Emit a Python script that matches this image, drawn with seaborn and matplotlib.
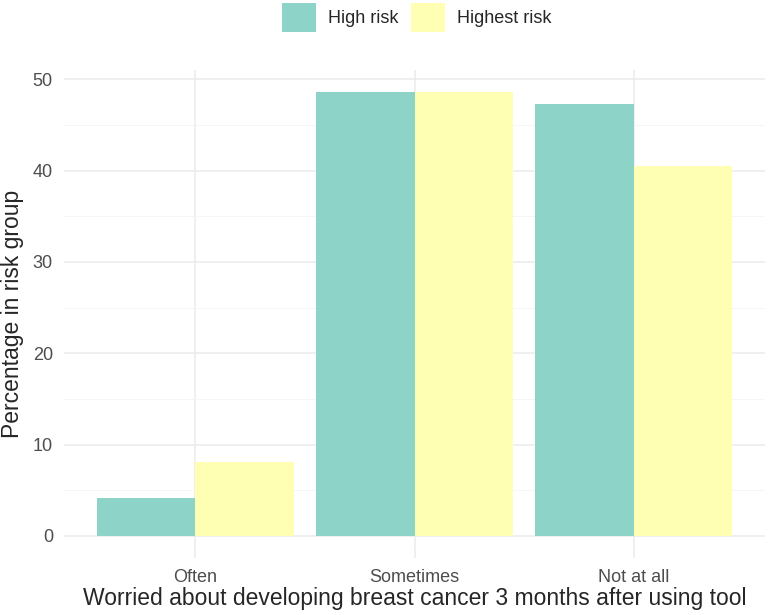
import pandas as pd
import matplotlib
matplotlib.use("Agg")
from matplotlib import pyplot as plt
from matplotlib.patches import Patch
from matplotlib.ticker import MultipleLocator
import seaborn as sns

# values (percent in each risk group)
categories = ["Often", "Sometimes", "Not at all"]
groups = ["High risk", "Highest risk"]
high_risk = [4.1, 48.6, 47.3]
highest_risk = [8.1, 48.6, 40.5]
colors = ["#8DD3C7", "#FFFFB3"]

data = pd.DataFrame({
    "worry": categories * 2,
    "group": [groups[0]] * 3 + [groups[1]] * 3,
    "pct": high_risk + highest_risk,
})

sns.set_style("white")
plt.rcParams["font.family"] = ["Liberation Sans", "DejaVu Sans"]

fig = plt.figure(figsize=(7.68, 6.15), dpi=100)
ax = fig.add_axes([64 / 768, 57 / 615, 701 / 768, 488 / 615])

sns.barplot(data=data, x="worry", y="pct", hue="group",
            order=categories, hue_order=groups,
            palette=colors, width=0.9, gap=0,
            saturation=1, linewidth=0, ax=ax, zorder=3)

ymax = max(high_risk + highest_risk)
ax.set_ylim(-0.05 * ymax, ymax * 1.05)
ax.set_xlim(-0.6, 2.6)
ax.yaxis.set_major_locator(MultipleLocator(10))
ax.yaxis.set_minor_locator(MultipleLocator(5))
ax.grid(which="major", color="#EBEBEB", linewidth=1.1, zorder=0)
ax.grid(which="minor", axis="y", color="#F4F4F4", linewidth=0.6, zorder=0)
ax.set_axisbelow(True)
ax.spines[["top", "right", "bottom", "left"]].set_visible(False)
ax.tick_params(axis="both", length=0, labelsize=13, labelcolor="#4D4D4D")
ax.tick_params(axis="x", pad=8)
ax.tick_params(axis="y", pad=8)

ax.set_xlabel("Worried about developing breast cancer 3 months after using tool",
              fontsize=16.5, labelpad=1)
ax.set_ylabel("Percentage in risk group", fontsize=16.5, labelpad=6)
ax.legend().remove()

handles = [Patch(facecolor=c, edgecolor="none") for c in colors]
fig.legend(handles, groups, loc="upper center", bbox_to_anchor=(0.543, 1.0),
           ncol=2, frameon=False, fontsize=13, borderaxespad=0, borderpad=0.15,
           handlelength=1.85, handleheight=2.1, columnspacing=0.7,
           handletextpad=0.7)

fig.savefig("out.png", dpi=100)
